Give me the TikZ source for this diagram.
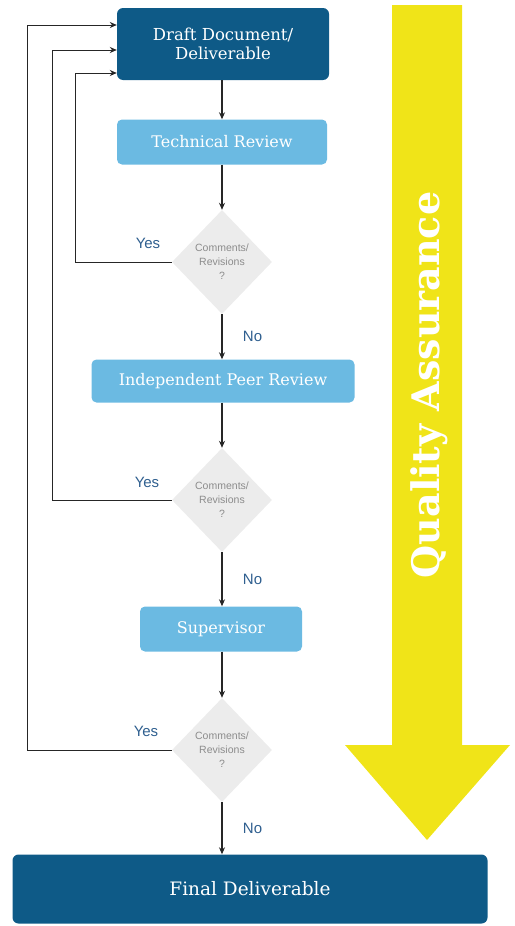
\documentclass[tikz,border=0pt]{standalone}
\usepackage{fontspec}
\setmainfont{DejaVu Serif}
\newfontfamily\labelfont{Liberation Sans}
\usepackage{xcolor}
\usetikzlibrary{shapes.geometric,arrows.meta}

\definecolor{darkbox}{HTML}{0E5A87}
\definecolor{lightbox}{HTML}{6BBAE2}
\definecolor{qayellow}{HTML}{F0E418}
\definecolor{diagrey}{HTML}{ECECEC}
\definecolor{answerblue}{HTML}{2F5F8F}

\tikzset{
	mainbox/.style={draw=none,fill=darkbox,rounded corners=6pt,text=white,font=\fontsize{16.5}{19}\selectfont,align=center},
	reviewbox/.style={draw=none,fill=lightbox,rounded corners=5pt,text=white,font=\fontsize{16}{18}\selectfont},
	question/.style={diamond,fill=diagrey,draw=none,text=gray!90,minimum width=100pt,minimum height=104pt,inner sep=0pt,align=center,font=\labelfont\fontsize{10.5}{14}\selectfont},
	answer/.style={text=answerblue,font=\labelfont\fontsize{15}{18}\selectfont},
	flow/.style={-{Stealth[length=7pt,width=6pt]},line width=1.2pt,black!85},
	back/.style={-{Stealth[length=7pt,width=6pt]},line width=1pt,black!85}
}

\begin{document}
\begin{tikzpicture}[x=1pt,y=-1pt]
			\useasboundingbox (0,0) rectangle (514,926);
			% quality assurance arrow
			\fill[qayellow] (392,5) -- (462,5) -- (462,745) -- (510,745) -- (427,840) -- (345,745) -- (392,745) -- cycle;
			\node[rotate=90,text=white,font=\bfseries\fontsize{38}{40}\selectfont] (qa) at (429,385) {Quality Assurance};
			% boxes
			\node[mainbox,minimum width=212pt,minimum height=72pt] (draft) at (223,44) {Draft Document/\\Deliverable};
			\node[reviewbox,minimum width=210pt,minimum height=45pt] (tech) at (222,142) {Technical Review};
			\node[question] (q1) at (222,262) {Comments/\\Revisions\\?};
			\node[reviewbox,minimum width=263pt,minimum height=43pt] (peer) at (223,381) {Independent Peer Review};
			\node[question] (q2) at (222,500) {Comments/\\Revisions\\?};
			\node[reviewbox,minimum width=162pt,minimum height=45pt] (super) at (221,629) {Supervisor};
			\node[question] (q3) at (222,750) {Comments/\\Revisions\\?};
			\node[mainbox,minimum width=475pt,minimum height=69pt,font=\fontsize{18.5}{21}\selectfont] (final) at (250,889) {Final Deliverable};
			\coordinate (loop1) at (75,0);
			\coordinate (loop2) at (52,0);
			\coordinate (loop3) at (27,0);
			% downward flow
			\draw[flow] (draft.south -| q1) -- (tech.north -| q1);
			\draw[flow] (tech.south -| q1) -- (q1);
			\draw[flow] (q1) -- (peer.north -| q1) node[midway,right=17pt,answer] {No};
			\draw[flow] (peer.south -| q2) -- (q2);
			\draw[flow] (q2) -- (super.north -| q2) node[midway,right=17pt,answer] {No};
			\draw[flow] (super.south -| q3) -- (q3);
			\draw[flow] (q3) -- (final.north -| q3) node[midway,right=17pt,answer] {No};
			% loops back
			\draw[back] (q1.west) -- (q1.west -| loop1) |- ([yshift=-29pt]draft.west);
			\draw[back] (q2.west) -- (q2.west -| loop2) |- ([yshift=-6pt]draft.west);
			\draw[back] (q3.west) -- (q3.west -| loop3) |- ([yshift=19pt]draft.west);
			\node[answer] (yes1) at (148,243) {Yes};
			\node[answer] (yes2) at (147,482) {Yes};
			\node[answer] (yes3) at (146,731) {Yes};
		\end{tikzpicture}
\end{document}
